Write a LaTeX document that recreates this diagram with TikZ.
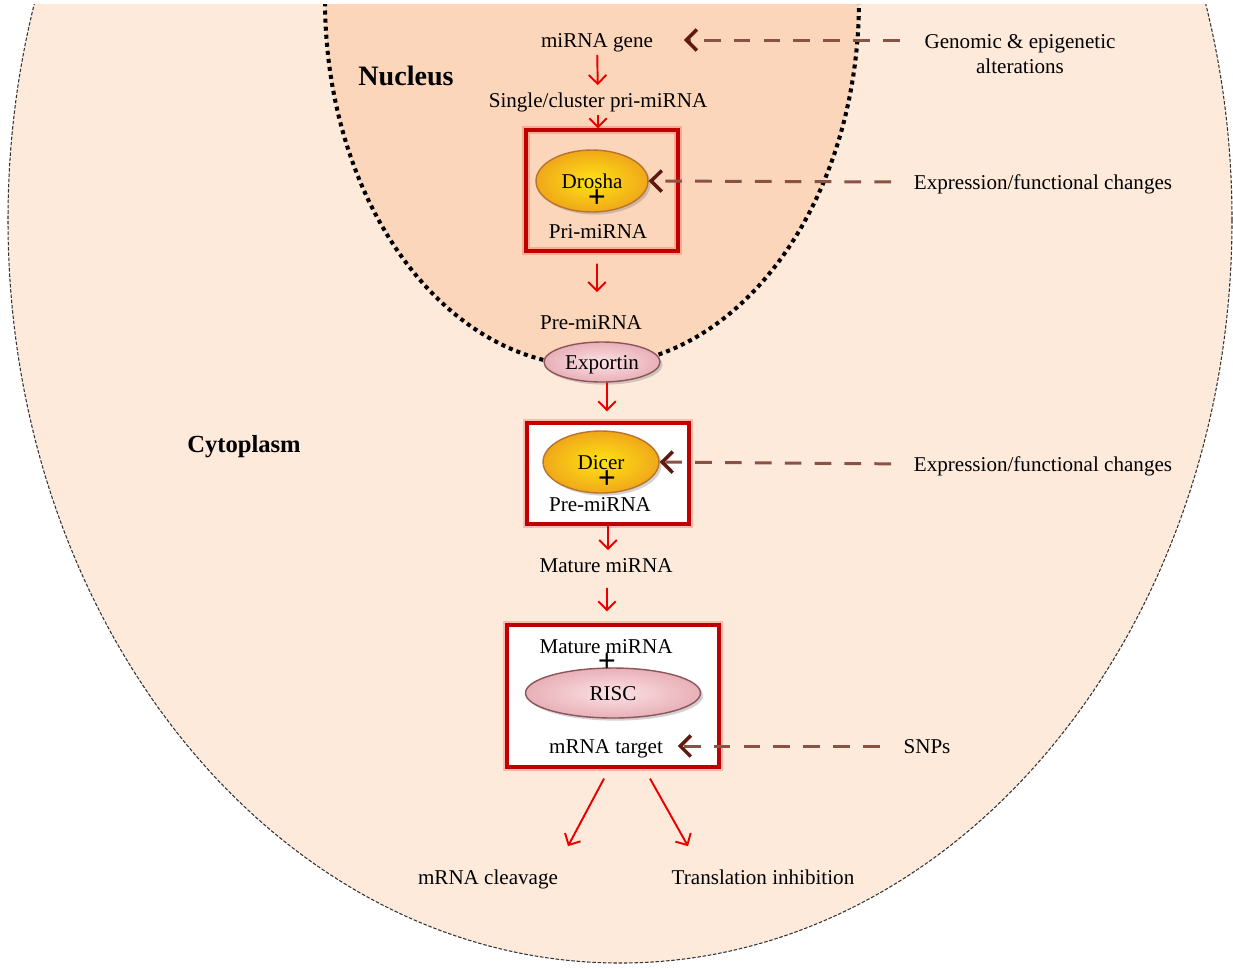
\documentclass[tikz,border=0pt]{standalone}
\usepackage{fontspec}
\setmainfont{Liberation Serif}
\usetikzlibrary{arrows.meta,shapes.geometric,shadows}

\definecolor{cellfill}{RGB}{253,234,219}
\definecolor{nucfill}{RGB}{251,214,186}
\definecolor{boxred}{RGB}{192,0,0}
\definecolor{arrred}{RGB}{235,0,0}
\definecolor{dashbrown}{RGB}{138,82,68}
\definecolor{tipbrown}{RGB}{95,25,15}
\definecolor{goldin}{RGB}{255,228,20}
\definecolor{goldout}{RGB}{240,168,25}
\definecolor{goldrim}{RGB}{185,115,45}
\definecolor{pinkin}{RGB}{252,226,229}
\definecolor{pinkout}{RGB}{232,176,183}
\definecolor{pinkrim}{RGB}{140,85,90}

\tikzset{
  lbl/.style={font=\fontsize{12}{14}\selectfont, inner sep=2pt, text height=10.5pt, text depth=2pt},
  plus/.style={font=\fontsize{18}{18}\selectfont\bfseries, inner sep=0pt},
  redbox/.style={draw=boxred, line width=1.8pt, preaction={draw=red, draw opacity=0.2, line width=5pt}},
  flow/.style={draw=arrred, line width=1.1pt, -{Straight Barb[length=5pt,width=10pt]}},
  effect/.style={draw=dashbrown, line width=1.7pt, dash pattern=on 9.5pt off 7.5pt,
    -{Straight Barb[length=6pt,width=12pt,color=tipbrown,line width=2pt]}},
  enzyme/.style={ellipse, draw=#1rim, line width=0.8pt, inner color=#1in, outer color=#1out,
    drop shadow={shadow xshift=1.5pt, shadow yshift=-1.5pt, opacity=0.35},
    font=\fontsize{12}{14}\selectfont, inner sep=0pt, text height=8pt, text depth=0pt}
}

\begin{document}
\begin{tikzpicture}[x=0.02cm, y=-0.02cm]
  \useasboundingbox (0,0) rectangle (1233,968);

  % cell and nucleus
  \begin{scope}
    \clip (0,4) rectangle (1233,968);
    \fill[cellfill] (620,220) ellipse [x radius=612, y radius=743];
    \draw[black!80, line width=0.6pt, dash pattern=on 2pt off 1pt] (620,220) ellipse [x radius=612, y radius=743];
    \fill[nucfill] (592,0) ellipse [x radius=267, y radius=366];
    \draw[black, line width=2.3pt, dash pattern=on 2.3pt off 2.3pt] (592,0) ellipse [x radius=267, y radius=366];
  \end{scope}

  \node[font=\fontsize{16}{18}\selectfont\bfseries] (nucleus) at (406,76) {Nucleus};
  \node[font=\fontsize{14}{16}\selectfont\bfseries] (cyto) at (244,447) {Cytoplasm};

  % nucleus steps
  \node[lbl] (gene) at (597,40) {miRNA gene};
  \node[lbl] (pri) at (598,100) {Single/cluster pri-miRNA};
  \node[redbox, minimum width=3.04cm, minimum height=2.42cm] (boxA) at (602,190.5) {};
  \node[enzyme=gold, minimum width=2.24cm, minimum height=1.24cm] (drosha) at (592,181) {Drosha};
  \node[plus] (plusA) at (597,199) {+};
  \node[lbl] (primi) at (598,231) {Pri-miRNA};
  \node[lbl] (pre) at (591,322) {Pre-miRNA};
  \node[enzyme=pink, minimum width=2.32cm, minimum height=0.8cm] (exportin) at (602,362) {Exportin};

  % cytoplasm steps
  \node[redbox, fill=white, minimum width=3.24cm, minimum height=2.02cm] (boxB) at (608,473.5) {};
  \node[enzyme=gold, minimum width=2.32cm, minimum height=1.24cm] (dicer) at (601,462) {Dicer};
  \node[plus] (plusB) at (607,480) {+};
  \node[lbl] (preB) at (600,504) {Pre-miRNA};
  \node[lbl] (mature) at (606,565) {Mature miRNA};
  \node[redbox, fill=white, minimum width=4.24cm, minimum height=2.84cm] (boxC) at (613,696) {};
  \node[lbl] (matureC) at (606,646) {Mature miRNA};
  \node[enzyme=pink, minimum width=3.5cm, minimum height=1cm] (risc) at (613,693) {RISC};
  \node[plus] (plusC) at (607,663) {+};
  \node[lbl] (mtarget) at (606,746) {mRNA target};
  \node[lbl] (cleave) at (488,877) {mRNA cleavage};
  \node[lbl] (trans) at (763,877) {Translation inhibition};

  % influences
  \node[align=center, inner sep=2pt, font=\fontsize{12}{14.2}\selectfont] (genomic) at (1020,54) {Genomic \& epigenetic\\alterations};
  \node[lbl] (expr1) at (1043,182) {Expression/functional changes};
  \node[lbl] (expr2) at (1043,464) {Expression/functional changes};
  \node[lbl] (snps) at (927,746) {SNPs};

  \draw[flow] (gene) -- (pri);
  \draw[flow] (pri.south) -- (pri.south |- boxA.north);
  \draw[flow, shorten <=0.22cm, shorten >=0.3cm] ([xshift=-0.1cm]boxA.south) -- ([xshift=0.12cm]pre.north);
  \draw[flow, shorten >=0.2cm] ([xshift=0.1cm]exportin.south) -- ([xshift=-0.02cm]boxB.north);
  \draw[flow] (boxB.south) -- (boxB.south |- mature.north);
  \draw[flow, shorten <=0.16cm, shorten >=0.24cm] ([xshift=0.02cm]mature.south) -- ([xshift=-0.12cm]boxC.north);
  \draw[flow] ([xshift=-0.18cm,yshift=-0.2cm]boxC.south) -- ([xshift=1.6cm,yshift=0.32cm]cleave.north);
  \draw[flow] ([xshift=0.74cm,yshift=-0.2cm]boxC.south) -- ([xshift=-1.5cm,yshift=0.32cm]trans.north);

  \draw[effect, shorten <=0.42cm, shorten >=0.54cm] (gene -| genomic.west) -- (gene.east);
  \draw[effect, shorten <=0.38cm] (expr1.west) -- (drosha.east);
  \draw[effect, shorten <=0.38cm] (expr2.west) -- (dicer.east);
  \draw[effect, shorten <=0.4cm] (snps.west) -- ([xshift=0.22cm]mtarget.east);

\end{tikzpicture}
\end{document}
